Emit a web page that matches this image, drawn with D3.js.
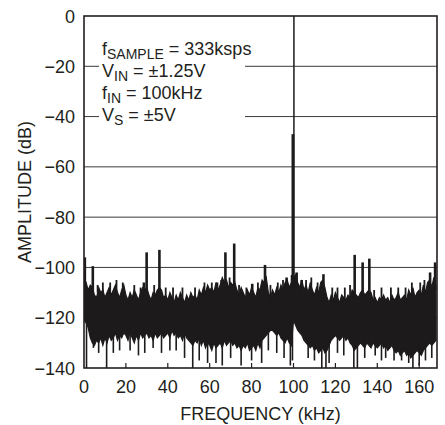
<!DOCTYPE html>
<html>
<head>
<meta charset="utf-8">
<script src="https://cdn.jsdelivr.net/npm/d3@7"></script>
<style>
  body { margin: 0; background: #fff; }
  svg { display: block; }
  text { font-family: "Liberation Sans Narrow", "Arial Narrow", "Liberation Sans", sans-serif; fill: #231f20; }
</style>
</head>
<body>
<svg width="445" height="425"></svg>
<script>
// FFT plot: 100kHz input, noise floor at 1kHz steps
const xTicks = [0, 20, 40, 60, 80, 100, 120, 140, 160];
const yTicks = [0, -20, -40, -60, -80, -100, -120, -140];

// top edge of the noise band, 0..168 kHz
const noiseTop = [
  -104, -106, -109, -107, -108, -111, -112, -108, -110, -109,
  -112, -110, -108, -111, -109, -107, -110, -112, -109, -107,
  -111, -113, -110, -112, -109, -111, -113, -110, -108, -109,
  -108, -111, -113, -110, -111, -109, -108, -109, -112, -111,
  -113, -110, -112, -114, -111, -113, -110, -112, -114, -111,
  -113, -110, -112, -111, -113, -109, -111, -108, -110, -107,
  -109, -108, -110, -106, -109, -107, -104, -106, -105, -108,
  -106, -107, -106, -109, -111, -108, -110, -112, -109, -111,
  -108, -110, -112, -108, -109, -105, -106, -104, -110, -112,
  -109, -111, -108, -110, -107, -109, -106, -105, -108, -106,
  -104, -103, -106, -108, -105, -109, -107, -110, -106, -109,
  -111, -108, -110, -106, -105, -108, -112, -114, -111, -113,
  -110, -112, -114, -111, -112, -113, -111, -112, -109, -110,
  -111, -112, -110, -109, -111, -110, -109, -110, -113, -112,
  -114, -112, -113, -111, -113, -112, -114, -111, -113, -112,
  -110, -113, -112, -111, -113, -109, -111, -108, -112, -110,
  -109, -111, -107, -110, -106, -105, -108, -104, -107
];

// bottom edge of the noise band, 0..168 kHz
const noiseBottom = [
  -121, -122, -124, -128, -130, -131, -129, -130, -128, -131,
  -128, -130, -127, -129, -128, -126, -129, -127, -128, -126,
  -127, -129, -126, -128, -130, -127, -129, -126, -128, -127,
  -126, -128, -127, -129, -126, -128, -127, -126, -128, -127,
  -126, -128, -125, -127, -126, -128, -127, -129, -126, -128,
  -129, -130, -131, -129, -130, -128, -131, -129, -132, -130,
  -131, -133, -130, -132, -131, -130, -132, -129, -131, -130,
  -129, -131, -130, -132, -131, -133, -131, -132, -130, -133,
  -132, -131, -133, -130, -132, -129, -128, -127, -126, -125,
  -125, -126, -127, -126, -128, -129, -130, -128, -130, -131,
  -121, -123, -125, -126, -127, -129, -130, -131, -132, -131,
  -133, -132, -134, -133, -132, -134, -133, -131, -129, -128,
  -127, -128, -129, -128, -127, -129, -128, -130, -131, -133,
  -132, -131, -130, -131, -132, -130, -131, -132, -130, -131,
  -132, -131, -130, -132, -131, -133, -132, -131, -133, -134,
  -133, -135, -134, -133, -135, -134, -136, -135, -134, -133,
  -134, -135, -133, -132, -131, -130, -131, -130, -129
];

// spurs above the band [kHz, dB]
const spurs = [
  [0.4, -96], [4.2, -99.5], [28.6, -106], [29.9, -94], [36.0, -93],
  [63.5, -106], [67.5, -94], [71.7, -90.5], [80.3, -106.5], [86.4, -99],
  [96.7, -104], [99.3, -103], [101.5, -102], [103.9, -105], [114.3, -102.7],
  [129.2, -95], [133.0, -98], [136.2, -96.5], [165.2, -102], [167.6, -98]
];

// smaller grass on top of the band [kHz, dB]
const grass = [
  [6.5, -107], [9, -106], [12.5, -106], [15.5, -105], [18.5, -106], [24, -107],
  [27, -108], [33.5, -107], [39, -108], [42.5, -108], [47, -108], [53, -108],
  [57.5, -106], [61, -106], [65.5, -105], [69.5, -104], [74, -107], [77.5, -108],
  [83, -106], [89, -107], [92.5, -106], [95, -105], [106, -105], [108.5, -104],
  [111.5, -106], [118.5, -108], [121, -108], [124.5, -108], [127, -107],
  [138.5, -109], [142, -108], [146.5, -108], [150, -108], [153.5, -108],
  [156.5, -106], [160.5, -106], [162.5, -105]
];

// deep notches below the band [kHz, dB]
const dips = [
  [1.2, -140], [4.5, -132], [7, -134], [10.8, -140], [14, -134], [17, -133],
  [22, -133], [26, -135], [29, -134], [33, -132], [37, -134], [41, -133],
  [44, -133], [48, -136], [51.9, -140], [55, -137], [59, -138],
  [63, -138], [66, -139], [70, -136], [75, -139], [80, -137], [84.8, -138],
  [88, -133], [92, -134], [95.5, -136],
  [98.5, -139], [99.5, -137], [107, -136], [110, -137], [113.5, -140], [115.5, -140],
  [117, -138], [121, -134], [124, -135], [128.8, -140], [130.5, -140], [134, -136],
  [139, -135], [142, -137], [144, -136], [148, -137], [151.6, -137], [155, -138],
  [157, -140], [160, -139], [163, -137], [166, -136]
];

const fundamental = { freq: 100.2, level: 0, skirt: -47 };

const notes = [
  { main: "f", sub: "SAMPLE", rest: " = 333ksps" },
  { main: "V", sub: "IN", rest: " = \u00b11.25V" },
  { main: "f", sub: "IN", rest: " = 100kHz" },
  { main: "V", sub: "S", rest: " = \u00b15V" }
];

const svg = d3.select("svg");
const plotL = 84, plotR = 437, plotT = 16, plotB = 368;

const x = d3.scaleLinear().domain([0, 168.5]).range([plotL, plotR]);
const y = d3.scaleLinear().domain([-140, 0]).range([plotB, plotT]);

svg.append("clipPath").attr("id", "plot")
  .append("rect").attr("x", plotL).attr("y", plotT)
  .attr("width", plotR - plotL).attr("height", plotB - plotT);

// gridlines; -20 and -40 are broken by the text block
const grid = svg.append("g").attr("stroke", "#3a3a3a").attr("stroke-width", 1);
[-60, -80, -100, -120].forEach(function (v) {
  grid.append("line").attr("x1", plotL).attr("x2", plotR)
    .attr("y1", y(v)).attr("y2", y(v));
});
[-20, -40].forEach(function (v) {
  grid.append("line").attr("x1", plotL).attr("x2", plotL + 15)
    .attr("y1", y(v)).attr("y2", y(v));
  grid.append("line").attr("x1", 245).attr("x2", plotR)
    .attr("y1", y(v)).attr("y2", y(v));
});

// spectrum
const ink = "#1c1a1b";
const trace = svg.append("g").attr("clip-path", "url(#plot)");

const area = d3.area()
  .x(function (d, i) { return x(i); })
  .y0(function (d, i) { return y(noiseBottom[i]); })
  .y1(function (d) { return y(d); });

trace.append("path")
  .datum(noiseTop)
  .attr("d", area)
  .attr("fill", ink)
  .attr("stroke", ink)
  .attr("stroke-width", 1.2)
  .attr("stroke-linejoin", "miter");

function bandTop(f) {
  const i = Math.max(0, Math.min(168, Math.round(f)));
  return noiseTop[i];
}
function bandBottom(f) {
  const i = Math.max(0, Math.min(168, Math.round(f)));
  return noiseBottom[i];
}

function spikes(cls, data, width, fromBand) {
  trace.selectAll("." + cls)
    .data(data)
    .enter().append("line")
    .attr("class", cls)
    .attr("x1", function (d) { return x(d[0]); })
    .attr("x2", function (d) { return x(d[0]); })
    .attr("y1", function (d) { return y(fromBand(d[0])); })
    .attr("y2", function (d) { return y(d[1]); })
    .attr("stroke", ink)
    .attr("stroke-width", width);
}

spikes("spur", spurs, 2.6, function (f) { return bandTop(f) - 2; });
spikes("grass", grass, 1.8, function (f) { return bandTop(f) - 2; });
spikes("dip", dips, 1.6, function (f) { return bandBottom(f) + 2; });

// the fundamental
trace.append("line")
  .attr("x1", x(fundamental.freq)).attr("x2", x(fundamental.freq))
  .attr("y1", y(-110)).attr("y2", y(fundamental.level))
  .attr("stroke", ink).attr("stroke-width", 1.5);
trace.append("line")
  .attr("x1", x(fundamental.freq) - 1).attr("x2", x(fundamental.freq) - 1)
  .attr("y1", y(-110)).attr("y2", y(fundamental.skirt))
  .attr("stroke", ink).attr("stroke-width", 2.8);

// frame
svg.append("rect")
  .attr("x", plotL).attr("y", plotT)
  .attr("width", plotR - plotL).attr("height", plotB - plotT)
  .attr("fill", "none").attr("stroke", "#231f20").attr("stroke-width", 1.6);

// bottom ticks point inwards
svg.append("g").selectAll("line")
  .data(xTicks.slice(1))
  .enter().append("line")
  .attr("x1", function (d) { return x(d); })
  .attr("x2", function (d) { return x(d); })
  .attr("y1", plotB).attr("y2", plotB - 5)
  .attr("stroke", "#231f20").attr("stroke-width", 1.2);

// tick labels
svg.append("g").selectAll("text")
  .data(xTicks)
  .enter().append("text")
  .attr("x", function (d) { return x(d); })
  .attr("y", 393)
  .attr("text-anchor", "middle")
  .style("font-size", "18px")
  .text(function (d) { return d; });

svg.append("g").selectAll("text")
  .data(yTicks)
  .enter().append("text")
  .attr("x", 75)
  .attr("y", function (d) { return y(d) + 6.5; })
  .attr("text-anchor", "end")
  .style("font-size", "18px")
  .text(function (d) { return d < 0 ? "\u2212" + Math.abs(d) : d; });

// axis titles
svg.append("text")
  .attr("x", (plotL + plotR) / 2).attr("y", 420)
  .attr("text-anchor", "middle")
  .style("font-size", "18px")
  .text("FREQUENCY (kHz)");

svg.append("text")
  .attr("transform", "translate(31," + (plotT + plotB) / 2 + ") rotate(-90)")
  .attr("text-anchor", "middle")
  .style("font-size", "18px")
  .text("AMPLITUDE (dB)");

// conditions block
const block = svg.append("g");
notes.forEach(function (n, i) {
  const t = block.append("text")
    .attr("x", 102).attr("y", 55 + i * 22)
    .style("font-size", "18px");
  t.append("tspan").text(n.main);
  t.append("tspan").attr("dy", 4).style("font-size", "14px").text(n.sub);
  t.append("tspan").attr("dy", -4).text(n.rest);
});
</script>
</body>
</html>
